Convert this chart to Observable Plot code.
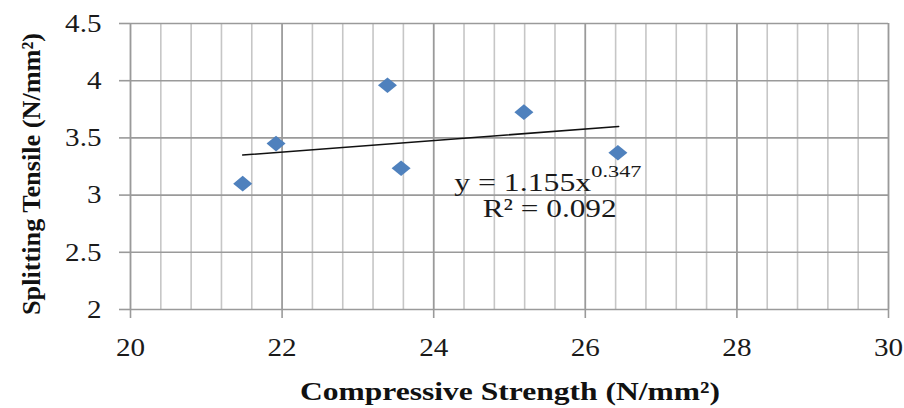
<!DOCTYPE html>
<html>
<head>
<meta charset="utf-8">
<script src="https://cdn.jsdelivr.net/npm/d3@7"></script>
<script src="https://cdn.jsdelivr.net/npm/@observablehq/plot@0.6"></script>
<style>
  html, body { margin: 0; padding: 0; background: #fff; }
  #chart { width: 904px; height: 408px; }
  #chart svg text { font-family: 'Liberation Serif', 'Times New Roman', serif; }
</style>
</head>
<body>
<div id="chart"></div>
<script>
// Data
const compressive = [21.48, 21.92, 23.39, 23.57, 25.19, 26.43];
const tensile     = [3.10, 3.45, 3.96, 3.235, 3.725, 3.37];

// Power trend line y = 1.155x^0.347, read at its visible ends
const trendX = [21.48, 26.44];
const trendY = [3.35, 3.60];

const xTicks = [20, 22, 24, 26, 28, 30];
const xMinor = [20, 20.4, 20.8, 21.2, 21.6, 22, 22.4, 22.8, 23.2, 23.6, 24, 24.4, 24.8, 25.2, 25.6, 26, 26.4, 26.8, 27.2, 27.6, 28, 28.4, 28.8, 29.2, 29.6, 30];
const yTicks = [2, 2.5, 3, 3.5, 4, 4.5];

const eqMain  = {x: 24.27, y: 3.04, text: "y = 1.155x"};
const eqPow   = {x: 26.08, y: 3.16, text: "0.347"};
const eqR2    = {x: 25.53, y: 2.81, text: "R² = 0.092"};

const points = compressive.map((c, i) => ({x: c, y: tensile[i]}));
const trend = trendX.map((x, i) => ({x, y: trendY[i]}));

const wideDiamond = {
  draw(ctx, size) {
    const w = 9.5, h = 7.8;
    ctx.moveTo(0, -h); ctx.lineTo(w, 0); ctx.lineTo(0, h); ctx.lineTo(-w, 0); ctx.closePath();
  }
};

const chart = Plot.plot({
  width: 904,
  height: 408,
  marginLeft: 130,
  marginRight: 16,
  marginTop: 23,
  marginBottom: 99,
  style: {fontSize: "26px", color: "#1a1a1a", background: "#fff"},
  x: {domain: [20, 30], ticks: xTicks, tickFormat: d => String(d), label: null},
  y: {domain: [2, 4.5], ticks: yTicks, tickFormat: d => String(d), label: null},
  marks: [
    Plot.ruleX(xMinor, {stroke: "#c6c6c6", strokeWidth: 1.6}),
    Plot.ruleX(xTicks, {stroke: "#9a9a9a", strokeWidth: 1.6}),
    Plot.ruleY(yTicks, {stroke: "#9a9a9a", strokeWidth: 1.6}),
    Plot.axisX({ticks: xTicks, tickSize: 9, tickPadding: 19, stroke: "#9a9a9a", strokeWidth: 1.6, tickFormat: d => String(d), label: null, fontSize: 26, className: "tick-x"}),
    Plot.axisY({ticks: yTicks, tickSize: 11, tickPadding: 18, stroke: "#9a9a9a", strokeWidth: 1.6, tickFormat: d => String(d), label: null, fontSize: 26, className: "tick-y"}),
    Plot.line(trend, {x: "x", y: "y", stroke: "#111", strokeWidth: 1.6}),
    Plot.dot(points, {x: "x", y: "y", symbol: wideDiamond, fill: "#4F81BD", stroke: "none", r: 8}),
    Plot.text([eqMain], {x: "x", y: "y", text: "text", textAnchor: "start", lineAnchor: "bottom", fontSize: 26, fill: "#1a1a1a", className: "eq-main"}),
    Plot.text([eqPow], {x: "x", y: "y", text: "text", textAnchor: "start", lineAnchor: "bottom", fontSize: 17, fill: "#1a1a1a", className: "eq-pow"}),
    Plot.text([eqR2], {x: "x", y: "y", text: "text", textAnchor: "middle", lineAnchor: "bottom", fontSize: 26, fill: "#1a1a1a", className: "eq-r2"})
  ]
});

// Axis titles (added as SVG text outside the plotting frame)
const svg = d3.select(chart);
svg.append("text")
  .attr("class", "title-x")
  .attr("x", 510).attr("y", 400)
  .attr("text-anchor", "middle")
  .attr("font-weight", "bold").attr("font-size", 26)
  .attr("fill", "#111")
  .text("Compressive Strength (N/mm²)");
svg.append("text")
  .attr("class", "title-y")
  .attr("transform", "translate(40,174) rotate(-90)")
  .attr("text-anchor", "middle")
  .attr("font-weight", "bold").attr("font-size", 26)
  .attr("fill", "#111")
  .text("Splitting Tensile (N/mm²)");

document.getElementById("chart").appendChild(chart);

// The reference text is slightly stretched horizontally: widen glyphs to match
function stretch(sel, widthOrFactor, isFactor) {
  svg.selectAll(sel).each(function () {
    const w = this.getComputedTextLength();
    const target = isFactor ? w * widthOrFactor : widthOrFactor;
    d3.select(this).attr("textLength", target).attr("lengthAdjust", "spacingAndGlyphs");
  });
}
stretch(".tick-x text", 1.12, true);
stretch(".tick-y text", 1.12, true);
stretch(".eq-main text", 137, false);
stretch(".eq-pow text", 50, false);
stretch(".eq-r2 text", 134, false);
stretch(".title-x", 420, false);
stretch(".title-y", 282, false);
</script>
</body>
</html>
